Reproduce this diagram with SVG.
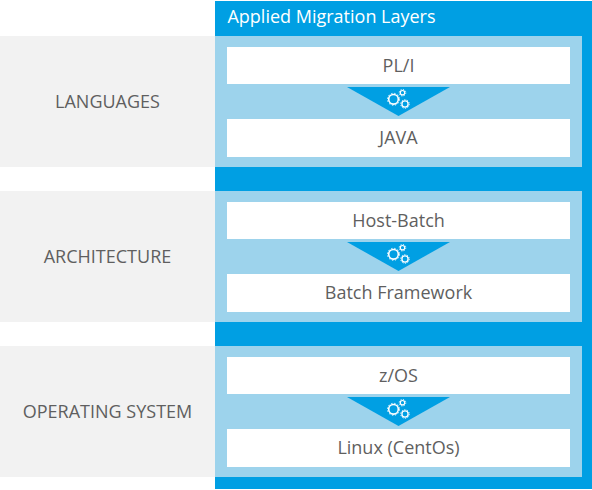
<svg xmlns="http://www.w3.org/2000/svg" width="592" height="490" viewBox="0 0 592 490">
<defs>
<style>
text{font-family:"Open Sans","Noto Sans","Liberation Sans",sans-serif;font-size:18px;fill:#5f5f5f;text-anchor:middle}
.band{fill:#f2f2f2}.panel{fill:#9dd3ec}.box{fill:#fff}.tri{fill:#009fe3}
.g{fill:none;stroke:#fff}
</style>
<g id="gears">
<polygon class="tri" points="347,87 450,87 398.500,116"/>
<circle class="g" cx="393.500" cy="99.300" r="4.800" stroke-width="1.600"/>
<circle class="g" cx="393.500" cy="99.300" r="6" stroke-width="1" stroke-dasharray="1.400 1.740"/>
<circle class="g" cx="402.500" cy="92.700" r="2.200" stroke-width="1.200"/>
<circle class="g" cx="402.500" cy="92.700" r="3.300" stroke-width="0.900" stroke-dasharray="1.200 1.390"/>
<circle class="g" cx="405" cy="104" r="3.100" stroke-width="1.300"/>
<circle class="g" cx="405" cy="104" r="4.300" stroke-width="0.900" stroke-dasharray="1.300 1.400"/>
</g>
</defs>
<rect id="background" x="215" y="1" width="377" height="488" fill="#009fe3"/>
<text x="331.500" y="23" style="fill:#fff">Applied Migration Layers</text>
<g id="languages">
<rect class="band" x="0" y="36" width="215" height="131"/>
<text x="107.500" y="108">LANGUAGES</text>
<rect class="panel" x="215" y="36" width="367" height="131"/>
</g>
<g id="pli"><rect class="box" x="227" y="47" width="343" height="37"/><text x="398.500" y="72">PL/I</text></g>
<g id="java"><rect class="box" x="227" y="119" width="343" height="38"/><text x="398.500" y="144">JAVA</text></g>
<g id="architecture">
<rect class="band" x="0" y="191" width="215" height="131"/>
<text x="107.500" y="263">ARCHITECTURE</text>
<rect class="panel" x="215" y="191" width="367" height="131"/>
</g>
<g id="host-batch"><rect class="box" x="227" y="202" width="343" height="37"/><text x="398.500" y="227">Host-Batch</text></g>
<g id="batch-framework"><rect class="box" x="227" y="274" width="343" height="38"/><text x="398.500" y="299">Batch Framework</text></g>
<g id="operating-system">
<rect class="band" x="0" y="346" width="215" height="131"/>
<text x="107.500" y="418">OPERATING SYSTEM</text>
<rect class="panel" x="215" y="346" width="367" height="131"/>
</g>
<g id="zos"><rect class="box" x="227" y="357" width="343" height="37"/><text x="398.500" y="382">z/OS</text></g>
<g id="linux"><rect class="box" x="227" y="429" width="343" height="38"/><text x="398.500" y="454">Linux (CentOs)</text></g>
<g id="connectors">
<use href="#gears"/>
<use href="#gears" y="155"/>
<use href="#gears" y="310"/>
</g>
</svg>
